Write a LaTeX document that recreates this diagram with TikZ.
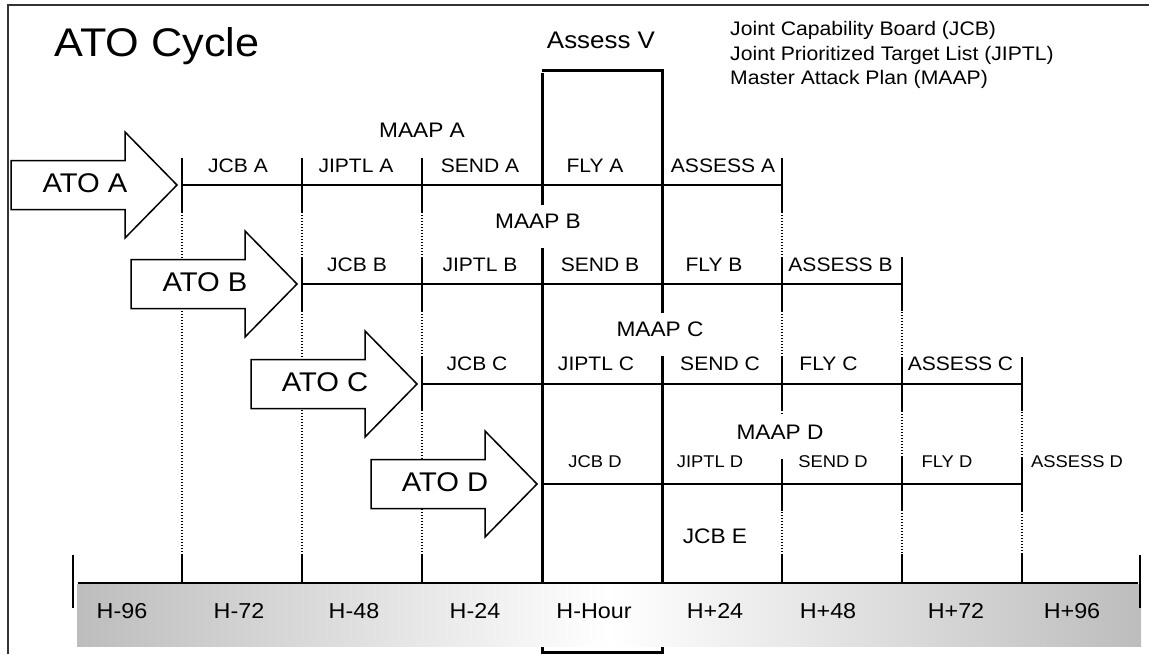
\documentclass[tikz,border=0pt]{standalone}
\usepackage{fontspec}
\setmainfont{Liberation Sans}[FakeStretch=1.08]
\begin{document}
\begin{tikzpicture}[x=1pt,y=-1pt,
  frame/.style={line width=1.3pt, draw=black!80},
  rowline/.style={line width=1.8pt},
  rtick/.style={line width=1.4pt},
  dots/.style={line width=1.1pt, dash pattern=on 1.2pt off 1.8pt},
  thickv/.style={line width=3pt},
  blockarrow/.style={draw, fill=white, line width=1.5pt, line join=miter},
  lbl/.style={anchor=base, inner sep=0pt, font=\fontsize{19.5}{22}\selectfont},
  lbld/.style={anchor=base, inner sep=0pt, font=\fontsize{17}{20}\selectfont},
  maap/.style={anchor=base, fill=white, inner xsep=3pt, inner ysep=1pt, text height=22pt, text depth=19pt, font=\fontsize{21}{24}\selectfont},
  ato/.style={anchor=base, inner sep=0pt, font=\fontsize{27}{30}\selectfont},
  axl/.style={anchor=base, inner sep=0pt, font=\fontsize{21.6}{24}\selectfont},
  leg/.style={anchor=base west, inner sep=0pt, font=\fontsize{19.6}{23}\selectfont},
]
\useasboundingbox (0,0) rectangle (1149,654);
% frame
\draw[frame] (8,654) -- (8,5) -- (1149,5);
% dotted guides
\foreach \x/\t in {182/158,302/158,422/158,782/158,902/258,1022/358}
  \draw[dots] (\x,\t) -- (\x,583);
% rows
\foreach \y/\a/\b in {185/182/782, 284/302/902, 384/422/1022, 484/542/1022} {
  \draw[rowline] (\a,\y) -- (\b,\y);
  \pgfmathtruncatemacro\nx{\a+120}
  \foreach \x in {\a,\nx,...,\b}
    \draw[rtick] (\x,\y-27) -- (\x,\y+27);
}
% Assess V window
\draw[thickv] (542,73) -- (542,652) -- (662,652) -- (662,68.5);
\draw[thickv] (542,70) -- (663.5,70);
% gray band
\shade[left color=black!26, right color=black!26, middle color=white] (77,584) rectangle (1141,646);
% axis
\draw[line width=2pt] (78,583) -- (1138,583);
\foreach \x in {182,302,...,1022}
  \draw[rtick] (\x,554) -- (\x,583);
\draw[line width=2pt] (73,555) -- (73,608);
\draw[line width=2pt] (1140,555) -- (1140,608);
% block arrows
\foreach \T/\Y/\L in {177/185/A, 297/284/B, 417/384/C, 537/484/D} {
  \draw[blockarrow] (\T-166,\Y-24.5) -- (\T-52,\Y-24.5) -- (\T-52,\Y-53) -- (\T,\Y)
     -- (\T-52,\Y+53) -- (\T-52,\Y+24.5) -- (\T-166,\Y+24.5) -- cycle;
  \node[ato] (ato\L) at (\T-92,\Y+7.5) {ATO \L};
}
% title and legend
\node[anchor=base, inner sep=0pt, font=\fontsize{40}{44}\selectfont] (title) at (157,56) {ATO Cycle};
\node[anchor=base, inner sep=0pt, font=\fontsize{24}{28}\selectfont] (assessV) at (601,48) {Assess V};
\node[leg] (leg1) at (730,35) {Joint Capability Board (JCB)};
\node[leg] (leg2) at (730,60) {Joint Prioritized Target List (JIPTL)};
\node[leg] (leg3) at (730,84) {Master Attack Plan (MAAP)};
% MAAP labels
\node[maap] (maapA) at (422,137) {MAAP A};
\node[maap] (maapB) at (538,228) {MAAP B};
\node[maap] (maapC) at (660,336) {MAAP C};
\node[maap] (maapD) at (780,439) {MAAP D};
% row A
\node[lbl] (jcbA) at (238,172) {JCB A};
\node[lbl] (jiptlA) at (356,172) {JIPTL A};
\node[lbl] (sendA) at (480,172) {SEND A};
\node[lbl] (flyA) at (595,172) {FLY A};
\node[lbl] (assessA) at (723,172) {ASSESS A};
% row B
\node[lbl] (jcbB) at (357,271) {JCB B};
\node[lbl] (jiptlB) at (480,271) {JIPTL B};
\node[lbl] (sendB) at (600,271) {SEND B};
\node[lbl] (flyB) at (714,271) {FLY B};
\node[lbl] (assessB) at (840.5,271) {ASSESS B};
% row C
\node[lbl] (jcbC) at (477,370) {JCB C};
\node[lbl] (jiptlC) at (596,370) {JIPTL C};
\node[lbl] (sendC) at (720,370) {SEND C};
\node[lbl] (flyC) at (828.5,370) {FLY C};
\node[lbl] (assessC) at (960.5,370) {ASSESS C};
% row D
\node[lbld] (jcbD) at (595,467.5) {JCB D};
\node[lbld] (jiptlD) at (710,467.5) {JIPTL D};
\node[lbld] (sendD) at (833,467.5) {SEND D};
\node[lbld] (flyD) at (947,467.5) {FLY D};
\node[lbld] (assessD) at (1077,467.5) {ASSESS D};
\node[anchor=base, inner sep=0pt, font=\fontsize{21}{24}\selectfont] (jcbE) at (715,543) {JCB E};
% axis labels
\foreach \x/\t [count=\i] in {122/H-96, 239/H-72, 354/H-48, 475/H-24, 594/H-Hour, 715/H+24, 828/H+48, 956/H+72, 1072/H+96}
  \node[axl] (ax\i) at (\x,618) {\t};
\end{tikzpicture}
\end{document}
